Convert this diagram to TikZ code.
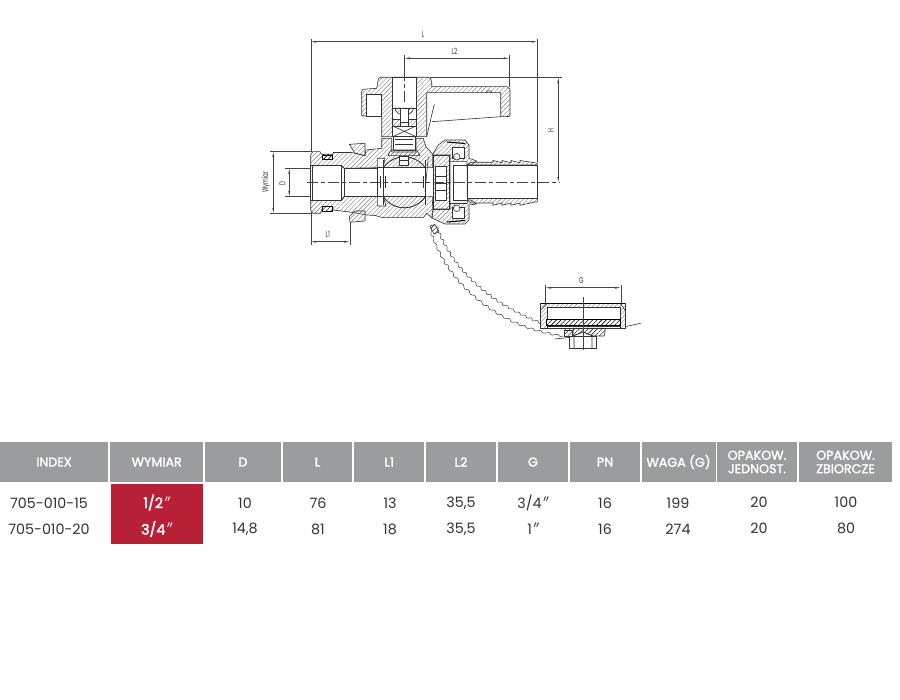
\documentclass[tikz,border=0pt]{standalone}
\usepackage{fontspec}
\setmainfont{Poppins}
\newfontfamily\dqfont{Lato}
\usetikzlibrary{arrows.meta,patterns.meta}
\definecolor{hdr}{HTML}{9B9C9E}
\definecolor{redc}{HTML}{B72035}
\definecolor{ink}{HTML}{333333}
\definecolor{dim}{HTML}{444444}
\newcommand{\dq}{{\dqfont\itshape ″}}
\tikzset{
 outl/.style={draw=ink,line width=0.6pt,line join=round},
 hatch/.style={outl,pattern={Lines[angle=45,distance=3.2pt,line width=0.4pt]},pattern color=gray},
 dimline/.style={draw=dim,line width=0.5pt,{Latex[length=5.5pt,width=2pt]}-{Latex[length=5.5pt,width=2pt]}},
 extline/.style={draw=dim,line width=0.4pt},
 axis/.style={draw=dim,line width=0.4pt,dash pattern=on 11pt off 3pt on 4pt off 3pt},
 dimlabel/.style={font=\fontsize{8.5}{9}\selectfont\addfontfeature{FakeStretch=0.65},text=ink,inner sep=0pt},
 hcell/.style={fill=hdr,text=white,font=\fontsize{12.7}{13.5}\selectfont\addfontfeature{FakeBold=2},anchor=center,align=center,inner sep=0pt},
 cellt/.style={text=ink,font=\fontsize{14.3}{15}\selectfont,inner sep=0pt},
 redt/.style={text=white,font=\fontsize{14.3}{15}\selectfont\addfontfeature{FakeBold=2.5},inner sep=0pt},
 chain/.style={draw=ink,line width=0.5pt},
}
\newcommand{\hc}[4]{\node[hcell,minimum width=#2,minimum height=40pt] (#4) at (#1,462) {#3};}
\newcommand{\wavy}[8]{%
\draw[chain] plot[domain=0:1,samples=240,smooth,variable=\t] ({(1-\t)*(1-\t)*(1-\t)*#1+3*(1-\t)*(1-\t)*\t*#3+3*(1-\t)*\t*\t*#5+\t*\t*\t*#7+0.7*sin(\t*7920)},{(1-\t)*(1-\t)*(1-\t)*#2+3*(1-\t)*(1-\t)*\t*#4+3*(1-\t)*\t*\t*#6+\t*\t*\t*#8-0.7*sin(\t*7920)});}
\begin{document}
\begin{tikzpicture}[x=1pt,y=-1pt]
\useasboundingbox (0,0) rectangle (900,700);
\fill[white] (0,0) rectangle (900,700);

% ---- dimension coordinates
\coordinate (La) at (310.7,41.7); \coordinate (Lb) at (537.3,41.7);
\coordinate (Ma) at (404.3,58.3); \coordinate (Mb) at (509.3,58.3);
\coordinate (Ha) at (558.3,77.3); \coordinate (Hb) at (558.3,182.3);
\coordinate (Wa) at (273.3,151.7); \coordinate (Wb) at (273.3,213.3);
\coordinate (Da) at (289.3,168.3); \coordinate (Db) at (289.3,196.7);
\coordinate (Sa) at (310.7,241.7); \coordinate (Sb) at (349.7,241.7);
\coordinate (Ga) at (545.3,287.7); \coordinate (Gb) at (620.7,287.7);

% ---- handle
\path[hatch] (363,89.3) -- (376.7,88.3) -- (378.3,79.3) to[out=70,in=180] (381,77.3) -- (428,77.3) to[out=0,in=90] (431.7,82) -- (431.7,86.7) -- (507,86.7) -- (510,89) -- (510,115) -- (509,116.5) -- (500.7,116.7) -- (500.7,92.7) -- (426.7,92.7) -- (426.7,136.7) -- (381.7,136.7) -- (381.7,116) -- (361.7,116) -- (361.7,91) -- cycle;
\path[outl,fill=white] (366,94) rectangle (381.7,116);
\path[outl,fill=white] (392.7,77.3) rectangle (416,108.3);
\path[outl,fill=white] (392.7,108.3) -- (392.7,136.7) -- (416,136.7) -- (416,108.3) -- cycle;
\path[hatch] (395,108.3) arc[start angle=180,end angle=0,x radius=9.2,y radius=6.6] -- cycle;
\path[hatch] (392.7,119.3) rectangle (400,126);
\path[hatch] (408.3,119.3) rectangle (416,126);
\path[outl,fill=white] (400,108.3) rectangle (408.3,122);
\draw[outl,line width=0.9pt] (392.7,126) rectangle (416,136.7);
\draw[outl] (392.7,126) -- (416,136.7) (416,126) -- (392.7,136.7);
\draw[outl] (431.7,121.7) -- (500.7,116.7);
\draw[outl] (434.3,104) -- (426.7,136.7);
\draw[outl] (486,92.7) arc[start angle=180,end angle=360,x radius=3,y radius=2];

% ---- body, upper half
\path[hatch] (310.7,155) -- (312.7,151.7) -- (320,151.7) -- (321.7,154.3) -- (332.7,154.3) -- (333.3,152.5) -- (351,152.5) -- (356,153.3) -- (365,155.7) -- (366,150) -- (381.7,148.3) -- (381.7,138.3) -- (391.7,138.3) -- (391.7,152) -- (416,152) -- (416,138.3) -- (423.3,138.3) -- (426,146.7) -- (432.7,154.3) -- (432.7,167.7) -- (377.3,167.7) -- (344,168.3) -- (341.7,165.7) -- (310.7,165.7) -- cycle;
% ---- body, lower half
\path[hatch] (310.7,210) -- (313,213.3) -- (320.7,213.3) -- (322.7,206.7) -- (332.7,206.7) -- (333,210) -- (351.7,212.3) -- (366.7,215) -- (375,215.5) -- (383,217.7) -- (423.3,217.7) -- (426.7,213.3) -- (432,218) -- (432.7,196.7) -- (377.3,196.7) -- (344,196.7) -- (341.7,200) -- (310.7,200) -- cycle;
% bores
\path[outl,fill=white] (310.7,165.7) rectangle (341.7,200);
\path[outl,fill=white] (344,168.3) rectangle (377.3,196.7);
\draw[outl] (341.7,165.7) -- (344,168.3) (341.7,200) -- (344,196.7);
\draw[outl] (312,165.7) -- (312,200);
% ball and seats
\path[outl,fill=white] (377.3,158.3) -- (385,158.3) -- (383.3,167.7) -- (377.3,167.7) -- cycle;
\path[outl,fill=white] (377.3,196.7) -- (383.3,196.7) -- (386,206) -- (377.3,206) -- cycle;
\begin{scope}
\clip (383.3,150) rectangle (425,215);
\path[outl,fill=white] (404.3,182.3) circle[radius=25.5];
\path[hatch] (404.3,182.3) circle[radius=25.5];
\end{scope}
\path[fill=white] (377.6,168) rectangle (425,196.4);
\draw[outl] (377.3,167.7) -- (425,167.7) (377.3,196.7) -- (425,196.7);
\draw[outl] (377.3,167.7) -- (377.3,196.7) (383.3,160) -- (383.3,205) (425,160) -- (425,205);
\draw[outl] (380,176) -- (380,188) (385,176) -- (385,188) (423,176) -- (423,188);
% stem above ball
\path[outl,fill=white] (393,136.7) rectangle (415,150);
\draw[outl,line width=1pt] (395,140) -- (413,140) (395,144.5) -- (413,144.5);
\path[hatch] (390.7,150) -- (416.7,150) -- (420,155.7) -- (388,155.7) -- cycle;
\path[outl,fill=white] (399.3,156.7) rectangle (408.3,165);
\draw[outl] (399.3,160) -- (408.3,160);
% seat right of ball
\draw[outl] (428.3,156.7) -- (425,191.7);
% insert
\path[hatch] (433.3,155) -- (449.3,155) -- (449.3,209) -- (433.3,209) -- cycle;
\path[outl,fill=white] (435.5,166.7) rectangle (446,200);
\draw[outl] (435.5,176) -- (446,176) (435.5,183.3) -- (446,183.3) (435.5,190.7) -- (446,190.7);
% union nut, upper
\path[hatch] (432.7,154.3) -- (438.3,145) -- (445,140) -- (465,140) -- (469,145) -- (469,158.3) -- (476.7,161) -- (471,165) -- (450,165) -- (450,155) -- (433.3,155) -- cycle;
\path[outl,fill=white] (452,147) rectangle (464.5,158);
\draw[draw=black,line width=1.1pt] (447,142) -- (465,143.5);
\draw[outl,fill=white] (456.7,156.7) circle[radius=3.3];
% union nut, lower
\path[hatch] (432,218) -- (438.3,221) -- (445,224) -- (465,224) -- (469,220) -- (469,205) -- (476.7,204) -- (471,200) -- (450,200) -- (450,209) -- (433.3,209) -- cycle;
\path[outl,fill=white] (452,207) rectangle (464.5,218);
\draw[draw=black,line width=1.1pt] (447,222) -- (465,220.5);
\draw[outl,fill=white] (456.7,208.3) circle[radius=3.3];
% sleeve between nut and tail
\path[outl,fill=white] (450,161.7) -- (467,161.7) -- (467.3,198) -- (467.3,203.5) -- (450,203.5) -- cycle;
\draw[outl] (453,165) -- (467.3,165) (453,200) -- (467.3,200) (453,165) -- (453,200);
% hose tail
\path[hatch] (467.3,165) -- (471,162.3) -- (493,162.3) -- (493,160.5) -- (502,162.8) -- (502,160.5) -- (511,162.8) -- (511,160.5) -- (520,162.8) -- (520,160.5) -- (535,162.8) -- (537.3,163) -- (537.3,165) -- cycle;
\path[hatch] (467.3,200) -- (471,203) -- (493,203) -- (493,205.3) -- (502,203) -- (502,205.3) -- (511,203) -- (511,205.3) -- (520,203) -- (520,205.3) -- (535,202) -- (537.3,202) -- (537.3,198.6) -- (467.3,198.6) -- cycle;
\path[outl,fill=white] (467.3,165) rectangle (537.3,198.6);
% lock nut
\path[hatch] (349.3,144.3) -- (365,143.3) -- (365,155.7) -- (355,153.3) -- cycle;
\path[hatch] (349.3,216.7) -- (355,211) -- (365,211) -- (365,221) -- (350,222.3) -- cycle;
% o-rings
\path[hatch,pattern color=black,draw=black,line width=0.9pt] (322.7,155) rectangle (332.7,159);
\path[hatch,pattern color=black,draw=black,line width=0.9pt] (322.7,206.7) rectangle (332.7,211);

% ---- chain
\path[hatch,pattern color=black] (430,226) -- (435,224.5) -- (439,232) -- (434,234) -- cycle;
\wavy{436.7}{226.7}{455}{275}{495}{305}{541.7}{323.3}
\wavy{430}{228.3}{446}{285}{500}{328}{563.3}{336}

% ---- cap
\path[hatch] (540.7,303.3) -- (625,303.3) -- (625,328.3) -- (540.7,328.3) -- cycle;
\path[outl,fill=white] (547.3,307.3) rectangle (620,319.3);
\draw[outl] (547.3,303.3) -- (540.7,310) (620,303.3) -- (625,310);
\path[hatch,draw=black,line width=1pt,pattern color=black] (546,319.3) rectangle (620,325.7);
\path[outl,fill=white] (547,325.9) rectangle (620,328.3);
\draw[draw=black,line width=1pt] (540.7,303.3) -- (625,303.3);
\path[hatch,pattern color=black] (573.3,328.3) -- (605,328.3) -- (605,332) -- (604,336) -- (593,336) -- (583,332) -- (573,336) -- cycle;
\path[outl,fill=white,line width=0.9pt] (569.3,336) rectangle (596.7,348.3);
\draw[outl] (574,336) -- (574,348.3) (592,336) -- (592,348.3) (573,336) -- (583,332) -- (593,336);
\path[hatch,pattern color=black] (564,330) rectangle (572,336);
\draw[outl] (625,326.7) -- (640.7,323.3);
\draw[outl] (555,339) -- (570,337.3);

% ---- axes
\draw[axis] (307,182.3) -- (560,182.3);
\draw[extline] (582.7,297.3) -- (582.7,350);
\draw[axis] (404.3,70) -- (404.3,102);

% ---- extension lines
\draw[extline] (310.7,38.7) -- (310.7,152);
\draw[extline] (537.3,38.7) -- (537.3,162);
\draw[extline] (404.3,55.3) -- (404.3,70);
\draw[extline] (509.3,55.3) -- (509.3,87);
\draw[extline] (430,77.3) -- (562,77.3);
\draw[extline] (270,151.7) -- (311,151.7) (270,213.3) -- (311,213.3);
\draw[extline] (285,168.3) -- (311,168.3) (285,196.7) -- (311,196.7);
\draw[extline] (310.7,245) -- (310.7,212);
\draw[extline] (349.7,245) -- (349.7,222);
\draw[extline] (545.3,284.7) -- (545.3,303);
\draw[extline] (620.7,284.7) -- (620.7,303);

% ---- dimensions
\draw[dimline] (La) -- (Lb);
\draw[dimline] (Ma) -- (Mb);
\draw[dimline] (Ha) -- (Hb);
\draw[dimline] (Wa) -- (Wb);
\draw[dimline] (Da) -- (Db);
\draw[dimline] (Sa) -- (Sb);
\draw[dimline] (Ga) -- (Gb);
\node[dimlabel] (lL) at (423,35) {L};
\node[dimlabel] (lM) at (454.5,51.5) {L2};
\node[dimlabel,rotate=90] (lH) at (551,131) {H};
\node[dimlabel,rotate=90] (lW) at (266,182) {Wymiar};
\node[dimlabel,rotate=90] (lD) at (282.3,183.3) {D};
\node[dimlabel] (lS) at (327.7,234.3) {L1};
\node[dimlabel] (lG) at (581.3,280.7) {G};

% ---- table header
\hc{54}{108pt}{INDEX}{h1}
\hc{156.7}{92.5pt}{WYMIAR}{h2}
\hc{243}{76pt}{D}{h3}
\hc{317.5}{69pt}{L}{h4}
\hc{389.2}{69.5pt}{L1}{h5}
\hc{461}{70pt}{L2}{h6}
\hc{533}{70pt}{G}{h7}
\hc{605}{70pt}{PN}{h8}
\hc{678.5}{74pt}{WAGA (G)}{h9}
\hc{757}{79.5pt}{OPAKOW.\\JEDNOST.}{h10}
\hc{845.5}{93pt}{OPAKOW.\\ZBIORCZE}{h11}
% ---- red cell
\path[fill=redc] (110.5,484.3) rectangle (203,543.7);
\node[redt] (r1) at (156.7,502.5) {1/2\dq};
\node[redt] (r2) at (156.7,529) {3/4\dq};
% ---- rows
\node[cellt] (a1) at (49,503) {705-010-15};
\node[cellt] (a2) at (49,529) {705-010-20};
\node[cellt] (b1) at (245,503) {10};
\node[cellt] (b2) at (245,529) {14,8};
\node[cellt] (c1) at (318,503) {76};
\node[cellt] (c2) at (318,529) {81};
\node[cellt] (d1) at (390,503) {13};
\node[cellt] (d2) at (390,529) {18};
\node[cellt] (e1) at (461,503) {35,5};
\node[cellt] (e2) at (461,529) {35,5};
\node[cellt] (f1) at (533,503) {3/4\dq};
\node[cellt] (f2) at (533,529) {1\dq};
\node[cellt] (g1) at (605,503) {16};
\node[cellt] (g2) at (605,529) {16};
\node[cellt] (i1) at (678,503) {199};
\node[cellt] (i2) at (678,529) {274};
\node[cellt] (j1) at (759,502) {20};
\node[cellt] (j2) at (759,528) {20};
\node[cellt] (k1) at (846,502) {100};
\node[cellt] (k2) at (846,528) {80};
\end{tikzpicture}
\end{document}
